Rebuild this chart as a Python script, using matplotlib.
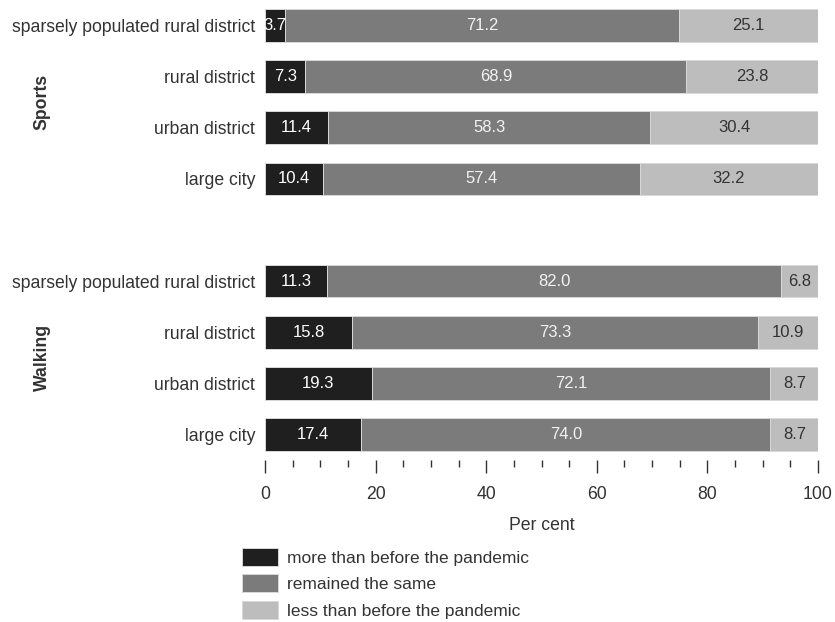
import matplotlib
matplotlib.use("Agg")
import matplotlib.pyplot as plt
from matplotlib.ticker import MultipleLocator
import numpy as np

plt.rcParams["font.family"] = ["Liberation Sans", "DejaVu Sans"]

places = ["sparsely populated rural district", "rural district",
          "urban district", "large city"]
groups = ["Sports", "Walking"]
series = ["more than before the pandemic", "remained the same",
          "less than before the pandemic"]

sports_more = [3.7, 7.3, 11.4, 10.4]
sports_same = [71.2, 68.9, 58.3, 57.4]
sports_less = [25.1, 23.8, 30.4, 32.2]
walking_more = [11.3, 15.8, 19.3, 17.4]
walking_same = [82.0, 73.3, 72.1, 74.0]
walking_less = [6.8, 10.9, 8.7, 8.7]

colors = ["#1f1f1f", "#7b7b7b", "#bdbdbd"]
text_colors = ["white", "#f2f2f2", "#333333"]

W, H = 835, 622
fig = plt.figure(figsize=(W / 100, H / 100), dpi=100)
ax = fig.add_axes([265 / W, 1 - 460 / H, (818 - 265) / W, 460 / H])

# rows 0-3 sports, row 4 empty, rows 5-8 walking
ypos = np.array([0, 1, 2, 3, 5, 6, 7, 8])
data = [np.array(sports_more + walking_more),
        np.array(sports_same + walking_same),
        np.array(sports_less + walking_less)]

left = np.zeros(len(ypos))
for vals, col, tcol, name in zip(data, colors, text_colors, series):
    bars = ax.barh(ypos, vals, left=left, height=0.64, color=col,
                   edgecolor="#d8d8d8", linewidth=0.7, label=name)
    for b, v in zip(bars, vals):
        ax.text(b.get_x() + b.get_width() / 2, b.get_y() + b.get_height() / 2,
                f"{v:.1f}", ha="center", va="center", color=tcol, fontsize=12)
    left += vals

ax.set_xlim(0, 100)
ax.set_ylim(8.5, -0.5)
ax.set_yticks(ypos)
ax.set_yticklabels(places * 2, fontsize=12.7, color="#333333")
ax.tick_params(axis="y", length=0, pad=7)

ax.xaxis.set_major_locator(MultipleLocator(20))
ax.xaxis.set_minor_locator(MultipleLocator(5))
ax.tick_params(axis="x", which="major", length=9, width=1, color="#333333",
               pad=10, labelsize=12.7, labelcolor="#333333")
ax.tick_params(axis="x", which="minor", length=5, width=1, color="#333333")
for s in ax.spines.values():
    s.set_visible(False)
ax.set_xlabel("Per cent", fontsize=12.7, color="#333333", labelpad=10)

for g, yc in zip(groups, [1.5, 6.5]):
    fig.text(42 / W, ax.transData.transform((0, yc))[1] / H, g, rotation=90,
             ha="center", va="center", fontsize=12.7, fontweight="bold",
             color="#333333")

handles, labels = ax.get_legend_handles_labels()
fig.legend(handles, labels, loc="upper left",
           bbox_to_anchor=(242 / W, 1 - 548 / H), frameon=False,
           fontsize=12.5, borderpad=0, borderaxespad=0, handlelength=2.1,
           handleheight=1.2, handletextpad=0.5, labelspacing=0.5,
           labelcolor="#333333")

fig.savefig("out.png", dpi=100)
